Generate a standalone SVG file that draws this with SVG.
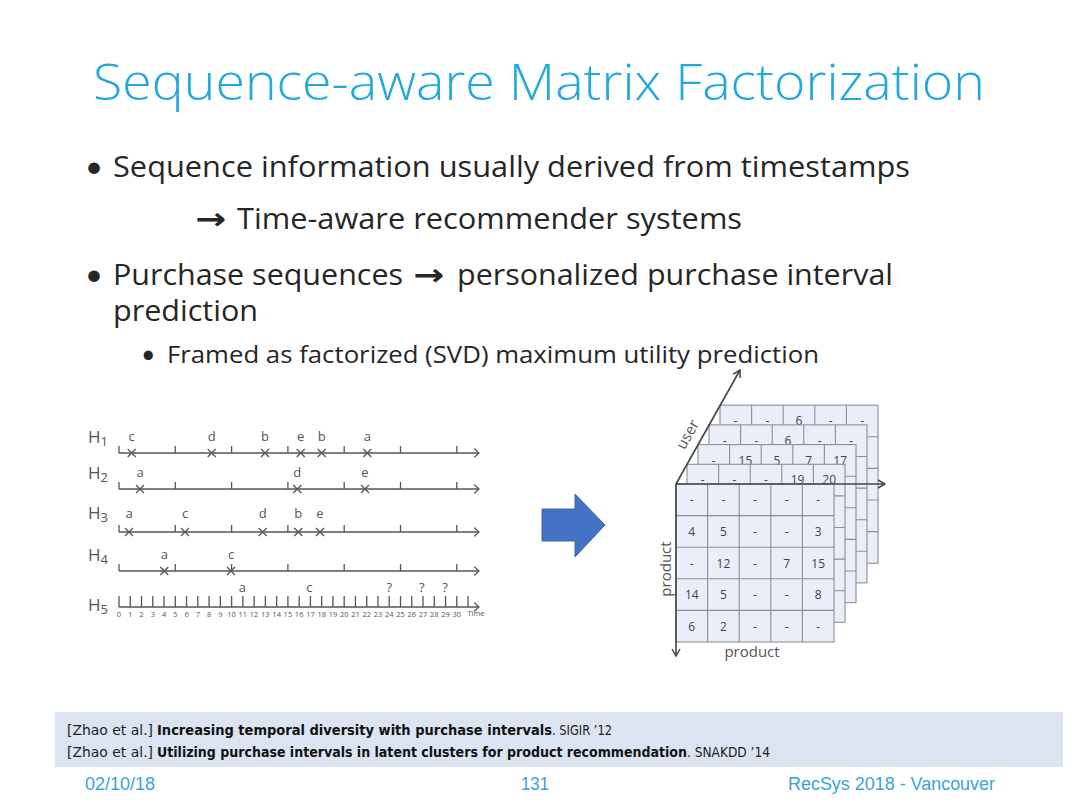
<svg xmlns="http://www.w3.org/2000/svg" xmlns:xlink="http://www.w3.org/1999/xlink" width="1080" height="810" viewBox="0 0 1080 810">
<style>
text{font-variant-ligatures:none}
.title{font-family:"Open Sans",Lato,sans-serif;font-weight:300;font-size:50px;fill:#21a8dc}
.body{font-family:"Open Sans",Lato,sans-serif;font-size:29px;fill:#262626}
.sub{font-family:"Open Sans",Lato,sans-serif;font-size:23.5px;fill:#262626}
.bul{font-family:Lato,"Open Sans",sans-serif;font-size:31px;fill:#262626}
.bul2{font-family:Lato,"Open Sans",sans-serif;font-size:25px;fill:#262626}
.arr{font-family:"DejaVu Sans",sans-serif;font-weight:bold;font-size:30px;fill:#262626}
.tl{fill:none;stroke:#555;stroke-width:1.3}
.tlab{font-family:"Open Sans",Lato,sans-serif;font-size:13px;fill:#555;text-anchor:middle}
.hlab{font-family:"Open Sans",Lato,sans-serif;font-size:17px;fill:#555}
.num{font-family:"Open Sans",sans-serif;font-size:7.5px;fill:#555;text-anchor:middle}
.cell{font-family:"Open Sans",Lato,sans-serif;font-size:12px;fill:#444;text-anchor:middle}
.axis{fill:none;stroke:#444;stroke-width:1.6}
.axlab{font-family:"Open Sans",Lato,sans-serif;font-size:15px;fill:#555;text-anchor:middle}
.ref{font-family:"DejaVu Sans Condensed","Liberation Sans",sans-serif;font-size:14px;fill:#222}
.refb{font-family:"DejaVu Sans Condensed","Liberation Sans",sans-serif;font-size:14px;fill:#111;font-weight:bold}
.foot{font-family:"Liberation Sans",Arial,sans-serif;font-size:18px;fill:#3aa3d6}
</style>
<defs>
<marker id="chev" viewBox="0 0 10 10" refX="9" refY="5" markerWidth="10" markerHeight="10" markerUnits="userSpaceOnUse" orient="auto">
<path d="M2,1L9,5L2,9" fill="none" stroke="#444" stroke-width="1.5"/>
</marker>
<marker id="chev2" viewBox="0 0 10 10" refX="9" refY="5" markerWidth="8" markerHeight="11" markerUnits="userSpaceOnUse" orient="auto" preserveAspectRatio="none">
<path d="M3,1L9,5L3,9" fill="none" stroke="#555" stroke-width="1.3"/>
</marker>
<path id="line" class="tl" d="M119,0H479" marker-end="url(#chev2)"/>
<path id="majticks" class="tl" d="M119,-7V0M175.3,-7V0M231.6,-7V0M287.9,-7V0M344.2,-7V0M400.5,-7V0M456.8,-7V0"/>
<path id="x" class="tl" d="M-4,-4L4,4M-4,4L4,-4"/>
<g id="grid">
<rect x="0" y="0" width="158" height="158" fill="#e9eef8" stroke="#8a9099" stroke-width="1.1"/>
<path d="M31.6,0V158M63.2,0V158M94.8,0V158M126.4,0V158M0,31.6H158M0,63.2H158M0,94.8H158M0,126.4H158" fill="none" stroke="#8a9099" stroke-width="1.1"/>
</g>
</defs>
<rect width="1080" height="810" fill="#ffffff"/>

<g id="title">
<text class="title" x="93" y="100" textLength="892" lengthAdjust="spacingAndGlyphs">Sequence-aware Matrix Factorization</text>
</g>

<g id="bullets">
<text class="bul" x="85" y="177">•</text>
<text class="body" x="113" y="177" textLength="797" lengthAdjust="spacingAndGlyphs">Sequence information usually derived from timestamps</text>
<text class="arr" x="195" y="229" textLength="31" lengthAdjust="spacingAndGlyphs">→</text>
<text class="body" x="237" y="229" textLength="505" lengthAdjust="spacingAndGlyphs">Time-aware recommender systems</text>
<text class="bul" x="85" y="285">•</text>
<text class="body" x="113" y="285" textLength="290" lengthAdjust="spacingAndGlyphs">Purchase sequences</text>
<text class="arr" x="413" y="285" textLength="31" lengthAdjust="spacingAndGlyphs">→</text>
<text class="body" x="457" y="285" textLength="436" lengthAdjust="spacingAndGlyphs">personalized purchase interval</text>
<text class="body" x="113" y="321" textLength="145" lengthAdjust="spacingAndGlyphs">prediction</text>
<text class="bul2" x="141" y="363">•</text>
<text class="sub" x="167" y="363" textLength="652" lengthAdjust="spacingAndGlyphs">Framed as factorized (SVD) maximum utility prediction</text>
</g>

<g id="timelines">
<g id="h1" transform="translate(0,453)">
<text class="hlab" x="88" y="-10">H<tspan font-size="13" dy="3">1</tspan></text>
<use href="#line"/><use href="#majticks"/>
<use href="#x" x="131.7"/><use href="#x" x="211.7"/><use href="#x" x="265"/><use href="#x" x="300.7"/><use href="#x" x="321.7"/><use href="#x" x="367.3"/>
<text class="tlab" x="131.7" y="-12">c</text><text class="tlab" x="211.7" y="-12">d</text><text class="tlab" x="265" y="-12">b</text><text class="tlab" x="300.7" y="-12">e</text><text class="tlab" x="321.7" y="-12">b</text><text class="tlab" x="367.3" y="-12">a</text>
</g>
<g id="h2" transform="translate(0,489)">
<text class="hlab" x="88" y="-10">H<tspan font-size="13" dy="3">2</tspan></text>
<use href="#line"/><use href="#majticks"/>
<use href="#x" x="140"/><use href="#x" x="297.3"/><use href="#x" x="365"/>
<text class="tlab" x="140" y="-12">a</text><text class="tlab" x="297.3" y="-12">d</text><text class="tlab" x="365" y="-12">e</text>
</g>
<g id="h3" transform="translate(0,532)">
<text class="hlab" x="88" y="-13">H<tspan font-size="13" dy="3">3</tspan></text>
<use href="#line"/><use href="#majticks"/>
<use href="#x" x="129"/><use href="#x" x="185"/><use href="#x" x="262.7"/><use href="#x" x="298.3"/><use href="#x" x="320"/>
<text class="tlab" x="129" y="-14">a</text><text class="tlab" x="185" y="-14">c</text><text class="tlab" x="262.7" y="-14">d</text><text class="tlab" x="298.3" y="-14">b</text><text class="tlab" x="320" y="-14">e</text>
</g>
<g id="h4" transform="translate(0,571)">
<text class="hlab" x="88" y="-10">H<tspan font-size="13" dy="3">4</tspan></text>
<use href="#line"/><use href="#majticks"/>
<use href="#x" x="164.3"/><use href="#x" x="231"/>
<text class="tlab" x="164.3" y="-12">a</text><text class="tlab" x="231" y="-12">c</text>
</g>
<g id="h5" transform="translate(0,607)">
<text class="hlab" x="88" y="4">H<tspan font-size="13" dy="3">5</tspan></text>
<use href="#line"/>
<path class="tl" d="M119,-11V0M130.26,-11V0M141.52,-11V0M152.78,-11V0M164.04,-11V0M175.3,-11V0M186.56,-11V0M197.82,-11V0M209.08,-11V0M220.34,-11V0M231.6,-11V0M242.86,-11V0M254.12,-11V0M265.38,-11V0M276.64,-11V0M287.9,-11V0M299.16,-11V0M310.42,-11V0M321.68,-11V0M332.94,-11V0M344.2,-11V0M355.46,-11V0M366.72,-11V0M377.98,-11V0M389.24,-11V0M400.5,-11V0M411.76,-11V0M423.02,-11V0M434.28,-11V0M445.54,-11V0M456.8,-11V0M468.06,-11V0"/>
<text class="tlab" x="242.3" y="-15">a</text><text class="tlab" x="309.3" y="-15">c</text><text class="tlab" x="389.3" y="-15">?</text><text class="tlab" x="421.7" y="-15">?</text><text class="tlab" x="445" y="-15">?</text>
<g class="num">
<text x="119" y="10">0</text><text x="130.26" y="10">1</text><text x="141.52" y="10">2</text><text x="152.78" y="10">3</text><text x="164.04" y="10">4</text><text x="175.3" y="10">5</text><text x="186.56" y="10">6</text><text x="197.82" y="10">7</text><text x="209.08" y="10">8</text><text x="220.34" y="10">9</text><text x="231.6" y="10">10</text><text x="242.86" y="10">11</text><text x="254.12" y="10">12</text><text x="265.38" y="10">13</text><text x="276.64" y="10">14</text><text x="287.9" y="10">15</text><text x="299.16" y="10">16</text><text x="310.42" y="10">17</text><text x="321.68" y="10">18</text><text x="332.94" y="10">19</text><text x="344.2" y="10">20</text><text x="355.46" y="10">21</text><text x="366.72" y="10">22</text><text x="377.98" y="10">23</text><text x="389.24" y="10">24</text><text x="400.5" y="10">25</text><text x="411.76" y="10">26</text><text x="423.02" y="10">27</text><text x="434.28" y="10">28</text><text x="445.54" y="10">29</text><text x="456.8" y="10">30</text><text x="476" y="9">Time</text>
</g>
</g>
</g>

<g id="big-arrow">
<polygon points="542,509 575,509 575,494 605,525 575,557 575,541 542,541" fill="#4472c4" stroke="#3d66b0" stroke-width="1"/>
</g>

<g id="tensor">
<g id="layer5" transform="translate(720,405.2)">
<use href="#grid"/>
<text class="cell" x="15.8" y="20">-</text><text class="cell" x="47.4" y="20">-</text><text class="cell" x="79" y="20">6</text><text class="cell" x="110.6" y="20">-</text><text class="cell" x="142.2" y="20">-</text>
</g>
<g id="layer4" transform="translate(709,424.9)">
<use href="#grid"/>
<text class="cell" x="15.8" y="20">-</text><text class="cell" x="47.4" y="20">-</text><text class="cell" x="79" y="20">6</text><text class="cell" x="110.6" y="20">-</text><text class="cell" x="142.2" y="20">-</text>
</g>
<g id="layer3" transform="translate(698,444.6)">
<use href="#grid"/>
<text class="cell" x="15.8" y="20">-</text><text class="cell" x="47.4" y="20">15</text><text class="cell" x="79" y="20">5</text><text class="cell" x="110.6" y="20">7</text><text class="cell" x="142.2" y="20">17</text>
</g>
<g id="layer2" transform="translate(687,464.3)">
<use href="#grid"/>
<text class="cell" x="15.8" y="20">-</text><text class="cell" x="47.4" y="20">-</text><text class="cell" x="79" y="20">-</text><text class="cell" x="110.6" y="20">19</text><text class="cell" x="142.2" y="20">20</text>
</g>
<g id="layer1" transform="translate(676,484)">
<use href="#grid"/>
<text class="cell" x="15.8" y="20">-</text><text class="cell" x="47.4" y="20">-</text><text class="cell" x="79" y="20">-</text><text class="cell" x="110.6" y="20">-</text><text class="cell" x="142.2" y="20">-</text>
<text class="cell" x="15.8" y="52">4</text><text class="cell" x="47.4" y="52">5</text><text class="cell" x="79" y="52">-</text><text class="cell" x="110.6" y="52">-</text><text class="cell" x="142.2" y="52">3</text>
<text class="cell" x="15.8" y="83.5">-</text><text class="cell" x="47.4" y="83.5">12</text><text class="cell" x="79" y="83.5">-</text><text class="cell" x="110.6" y="83.5">7</text><text class="cell" x="142.2" y="83.5">15</text>
<text class="cell" x="15.8" y="115">14</text><text class="cell" x="47.4" y="115">5</text><text class="cell" x="79" y="115">-</text><text class="cell" x="110.6" y="115">-</text><text class="cell" x="142.2" y="115">8</text>
<text class="cell" x="15.8" y="147">6</text><text class="cell" x="47.4" y="147">2</text><text class="cell" x="79" y="147">-</text><text class="cell" x="110.6" y="147">-</text><text class="cell" x="142.2" y="147">-</text>
</g>
</g>

<g id="axes">
<path class="axis" d="M676,484L740,370" marker-end="url(#chev)"/>
<path class="axis" d="M676,484H885" marker-end="url(#chev)"/>
<path class="axis" d="M676,484V656" marker-end="url(#chev)"/>
<text class="axlab" transform="translate(692,437) rotate(-60.7)">user</text>
<text class="axlab" transform="translate(671,569) rotate(-90)">product</text>
<text class="axlab" x="752" y="657">product</text>
</g>

<g id="references">
<rect x="55" y="712" width="1008" height="55" fill="#dde4f1"/>
<text class="ref" x="67" y="735" textLength="86" lengthAdjust="spacingAndGlyphs">[Zhao et al.]</text>
<text class="refb" x="157" y="735" textLength="395" lengthAdjust="spacingAndGlyphs">Increasing temporal diversity with purchase intervals</text>
<text class="ref" x="552" y="735" textLength="60" lengthAdjust="spacingAndGlyphs">. SIGIR ’12</text>
<text class="ref" x="67" y="757" textLength="86" lengthAdjust="spacingAndGlyphs">[Zhao et al.]</text>
<text class="refb" x="157" y="757" textLength="530" lengthAdjust="spacingAndGlyphs">Utilizing purchase intervals in latent clusters for product recommendation</text>
<text class="ref" x="687" y="757" textLength="83" lengthAdjust="spacingAndGlyphs">. SNAKDD ’14</text>
</g>

<g id="footer">
<text class="foot" x="85" y="790" textLength="70" lengthAdjust="spacingAndGlyphs">02/10/18</text>
<text class="foot" x="521" y="790" textLength="28" lengthAdjust="spacingAndGlyphs">131</text>
<text class="foot" x="788" y="790" textLength="207" lengthAdjust="spacingAndGlyphs">RecSys 2018 - Vancouver</text>
</g>
</svg>
